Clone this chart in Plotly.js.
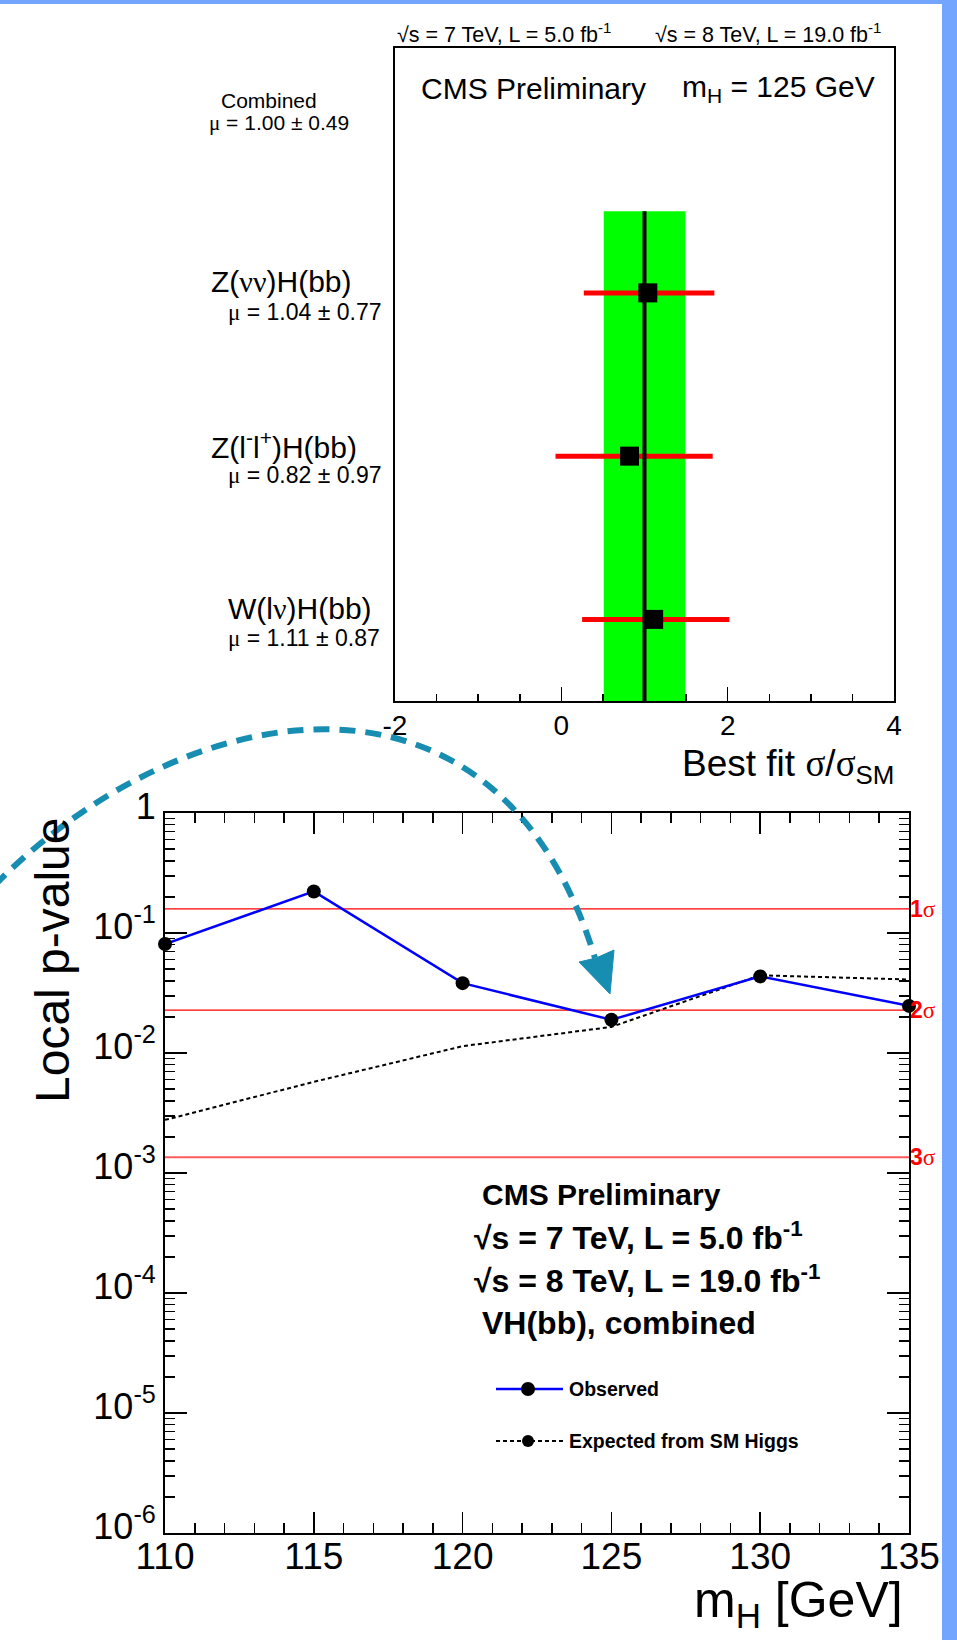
<!DOCTYPE html>
<html><head><meta charset="utf-8">
<script src="https://cdn.plot.ly/plotly-3.0.1.min.js"></script>
<style>html,body{margin:0;padding:0;background:#fff}#chart{width:957px;height:1640px}</style>
</head><body><div id="chart"></div>
<script>
// ---------- top panel: best-fit signal strength per channel (mH = 125 GeV)
const channels   = ['Combined', 'Z(νν)H(bb)', 'Z(l<sup>-</sup>l<sup>+</sup>)H(bb)', 'W(lν)H(bb)'];
const channelPos = [3.5, 2.5, 1.5, 0.5];
const muBest     = [1.00, 1.04, 0.82, 1.11];
const muQuoted   = [0.49, 0.77, 0.97, 0.87];
const errMinus   = [0.49, 0.77, 0.89, 0.86];
const errPlus    = [0.49, 0.80, 1.00, 0.91];
const topTickVals = [-2, 0, 2, 4];
const topTickText = ['-2', '0', '2', '4'];

// ---------- bottom panel: local p-value vs mH
const massPoints = [110, 115, 120, 125, 130, 135];
const pObserved  = [0.081, 0.222, 0.0382, 0.0189, 0.0435, 0.0247];
const pExpected  = [0.00277, 0.00575, 0.0114, 0.0165, 0.0444, 0.041];
const sigmaNames = ['1', '2', '3'];
const sigmaP     = [0.1587, 0.02275, 0.00135];
const pTickVals  = [1, 1e-1, 1e-2, 1e-3, 1e-4, 1e-5, 1e-6];
const pTickText  = ['1', '10<sup>-1</sup>', '10<sup>-2</sup>', '10<sup>-3</sup>', '10<sup>-4</sup>', '10<sup>-5</sup>', '10<sup>-6</sup>'];

const W = 957, H = 1640;
const FONT = 'Liberation Sans, Arial, Helvetica, sans-serif';
const px = x => x / W, py = y => 1 - y / H;
const g = s => s.replace(/([νμσ])/g, '<span style="font-family:Liberation Serif">$1</span>');

// ---------- traces
const bandTop = channelPos[1] + 0.5;
const c0 = muBest[0], e0 = muQuoted[0];
const traces = [];
traces.push({x: [c0 - e0, c0 + e0, c0 + e0, c0 - e0, c0 - e0], y: [0, 0, bandTop, bandTop, 0],
  xaxis: 'x', yaxis: 'y', mode: 'lines', fill: 'toself', fillcolor: '#00ff00',
  line: {width: 0, color: '#00ff00'}, hoverinfo: 'skip', showlegend: false});
traces.push({x: muBest.slice(1), y: channelPos.slice(1), xaxis: 'x', yaxis: 'y', mode: 'markers',
  marker: {symbol: 'square', size: 19, color: '#000'},
  error_x: {type: 'data', symmetric: false, array: errPlus.slice(1), arrayminus: errMinus.slice(1),
    color: '#ff0000', thickness: 5, width: 0}, showlegend: false});
traces.push({x: [c0, c0], y: [0, bandTop], xaxis: 'x', yaxis: 'y', mode: 'lines',
  line: {color: '#000', width: 4}, showlegend: false});

sigmaP.forEach((p, i) => {
  traces.push({x: [massPoints[0], massPoints[massPoints.length - 1]], y: [p, p], xaxis: 'x2', yaxis: 'y2',
    mode: 'lines', line: {color: i === 2 ? '#ff5a5a' : '#ff0000', width: i === 2 ? 2 : 1.3},
    hoverinfo: 'skip', showlegend: false});
});
traces.push({x: massPoints, y: pExpected, xaxis: 'x2', yaxis: 'y2', mode: 'lines',
  line: {color: '#000', width: 2, dash: '4px,3px'}, showlegend: false});
traces.push({x: massPoints, y: pObserved, xaxis: 'x2', yaxis: 'y2', mode: 'lines+markers',
  line: {color: '#0000ff', width: 2.5}, marker: {color: '#000', size: 14}, cliponaxis: false, showlegend: false});

// ---------- annotations
function ann(text, x, y, size, o) {
  return Object.assign({xref: 'paper', yref: 'paper', x: px(x), y: py(y), text: text, showarrow: false,
    xanchor: 'left', yanchor: 'middle', font: {family: FONT, size: size, color: '#000'}}, o || {});
}
const annotations = [];
annotations.push(ann('√s = 7 TeV, L = 5.0 fb<sup>-1</sup>', 395, 33, 21.5));
annotations.push(ann('√s = 8 TeV, L = 19.0 fb<sup>-1</sup>', 653, 33, 21.5));
annotations.push(ann('CMS Preliminary', 419, 88, 30));
annotations.push(ann('m<sub>H</sub> = 125 GeV', 680, 88, 30));
annotations.push(ann('Best fit ' + g('σ/σ') + '<sub>SM</sub>', 896, 766, 37, {xanchor: 'right'}));
channels.forEach((name, i) => {
  const first = i === 0;
  const xl = first ? 219 : (i === 3 ? 226 : 209);
  const xm = first ? 207 : 226;
  annotations.push({xref: 'paper', yref: 'y', x: px(xl), y: channelPos[i], yshift: first ? 29 : 11,
    text: g(name), showarrow: false, xanchor: 'left', yanchor: 'middle',
    font: {family: FONT, size: first ? 21 : 30, color: '#000'}});
  annotations.push({xref: 'paper', yref: 'y', x: px(xm), y: channelPos[i], yshift: first ? 7 : -19,
    text: g('μ = ' + muBest[i].toFixed(2) + ' ± ' + muQuoted[i].toFixed(2)), showarrow: false,
    xanchor: 'left', yanchor: 'middle', font: {family: FONT, size: first ? 21 : 23, color: '#000'}});
});
annotations.push({xref: 'paper', yref: 'paper', x: px(53), y: py(960), text: 'Local p-value', textangle: -90,
  showarrow: false, xanchor: 'center', yanchor: 'middle', font: {family: FONT, size: 48, color: '#000'}});
annotations.push(ann('m<sub>H</sub> [GeV]', 905, 1603, 50, {xanchor: 'right'}));
annotations.push(ann('<b>CMS Preliminary</b>', 480, 1194, 30));
annotations.push(ann('<b>√s = 7 TeV, L = 5.0 fb<sup>-1</sup></b>', 472, 1236, 32));
annotations.push(ann('<b>√s = 8 TeV, L = 19.0 fb<sup>-1</sup></b>', 472, 1279, 32));
annotations.push(ann('<b>VH(bb), combined</b>', 480, 1323, 32));
annotations.push(ann('<b>Observed</b>', 567, 1389, 19.5));
annotations.push(ann('<b>Expected from SM Higgs</b>', 567, 1441, 19.5));
sigmaP.forEach((p, i) => {
  annotations.push({xref: 'paper', yref: 'y2', x: px(908), y: Math.log10(p), showarrow: false,
    xanchor: 'left', yanchor: 'middle',
    text: '<b>' + sigmaNames[i] + '</b><span style="font-family:Liberation Serif">σ</span>',
    font: {family: FONT, size: 23, color: '#ff0000'}});
});

// ---------- decorative shapes
const P = (x, y) => px(x).toFixed(5) + ',' + py(y).toFixed(5);
const TEAL = '#188db2';
const shapes = [
  {type: 'rect', xref: 'paper', yref: 'paper', x0: 0, x1: 1, y0: py(4), y1: 1, fillcolor: '#73a5ff', line: {width: 0}, layer: 'above'},
  {type: 'rect', xref: 'paper', yref: 'paper', x0: px(942), x1: 1, y0: 0, y1: 1, fillcolor: '#73a5ff', line: {width: 0}, layer: 'above'},
  {type: 'path', xref: 'paper', yref: 'paper', layer: 'above',
   path: 'M' + P(-6, 886) + ' C' + P(175, 700) + ' ' + P(495, 630) + ' ' + P(595, 958),
   line: {color: TEAL, width: 6, dash: '16px,10px'}},
  {type: 'path', xref: 'paper', yref: 'paper', layer: 'above',
   path: 'M' + P(579, 962) + ' L' + P(596, 958) + ' L' + P(614, 950) + ' L' + P(610, 994) + ' Z',
   fillcolor: TEAL, line: {color: TEAL, width: 1}},
  // legend glyphs
  {type: 'line', xref: 'paper', yref: 'paper', x0: px(496), x1: px(563), y0: py(1389), y1: py(1389), line: {color: '#0000ff', width: 2.5}},
  {type: 'circle', xref: 'paper', yref: 'paper', xsizemode: 'pixel', ysizemode: 'pixel', xanchor: px(528), yanchor: py(1389),
   x0: -7, x1: 7, y0: -7, y1: 7, fillcolor: '#000', line: {width: 0}},
  {type: 'line', xref: 'paper', yref: 'paper', x0: px(496), x1: px(563), y0: py(1441), y1: py(1441), line: {color: '#000', width: 2, dash: '4px,3px'}},
  {type: 'circle', xref: 'paper', yref: 'paper', xsizemode: 'pixel', ysizemode: 'pixel', xanchor: px(528), yanchor: py(1441),
   x0: -6, x1: 6, y0: -6, y1: 6, fillcolor: '#000', line: {width: 0}}
];

// minor tick positions for the log axis (2..9 per decade)
const logMinor = [];
for (let d = -6; d < 0; d++) for (let k = 2; k <= 9; k++) logMinor.push(k * Math.pow(10, d));

const layout = {
  width: W, height: H, autosize: false, margin: {l: 0, r: 0, t: 0, b: 0, pad: 0},
  paper_bgcolor: '#fff', plot_bgcolor: '#fff', showlegend: false,
  font: {family: FONT, color: '#000'},
  xaxis: {domain: [px(395), px(894)], anchor: 'y', range: [-2, 4], showgrid: false, zeroline: false,
    showline: true, linecolor: '#000', linewidth: 2, mirror: true,
    tickmode: 'array', tickvals: topTickVals, ticktext: topTickText, ticklabelstandoff: -2,
    ticks: 'inside', ticklen: 14, tickwidth: 1.5, tickcolor: '#000', tickfont: {size: 28, family: FONT},
    minor: {tickmode: 'linear', tick0: -2, dtick: 0.5, ticks: 'inside', ticklen: 7, tickwidth: 1.5, tickcolor: '#000', showgrid: false}},
  yaxis: {domain: [py(701), py(48)], anchor: 'x', range: [0, 4], showgrid: false, zeroline: false,
    showline: true, linecolor: '#000', linewidth: 2, mirror: true, ticks: '', showticklabels: false},
  xaxis2: {domain: [px(165), px(909)], anchor: 'y2', range: [110, 135], showgrid: false, zeroline: false,
    showline: true, linecolor: '#000', linewidth: 2, mirror: 'allticks',
    tickmode: 'linear', tick0: 110, dtick: 5, ticklabelstandoff: -10,
    ticks: 'inside', ticklen: 21, tickwidth: 1.5, tickcolor: '#000', tickfont: {size: 37, family: FONT},
    minor: {tickmode: 'linear', tick0: 110, dtick: 1, ticks: 'inside', ticklen: 10, tickwidth: 1.5, tickcolor: '#000', showgrid: false}},
  yaxis2: {domain: [py(1533), py(813)], anchor: 'x2', type: 'log', range: [-6, 0], showgrid: false, zeroline: false,
    showline: true, linecolor: '#000', linewidth: 2, mirror: 'allticks',
    tickmode: 'array', tickvals: pTickVals, ticktext: pTickText, ticklabelshift: -7,
    ticks: 'inside', ticklen: 22, tickwidth: 1.5, tickcolor: '#000', tickfont: {size: 36, family: FONT},
    minor: {tickmode: 'array', tickvals: logMinor, ticks: 'inside', ticklen: 10, tickwidth: 1.5, tickcolor: '#000', showgrid: false}},
  annotations: annotations,
  shapes: shapes
};

Plotly.newPlot('chart', traces, layout, {displayModeBar: false, staticPlot: true});
</script></body></html>
